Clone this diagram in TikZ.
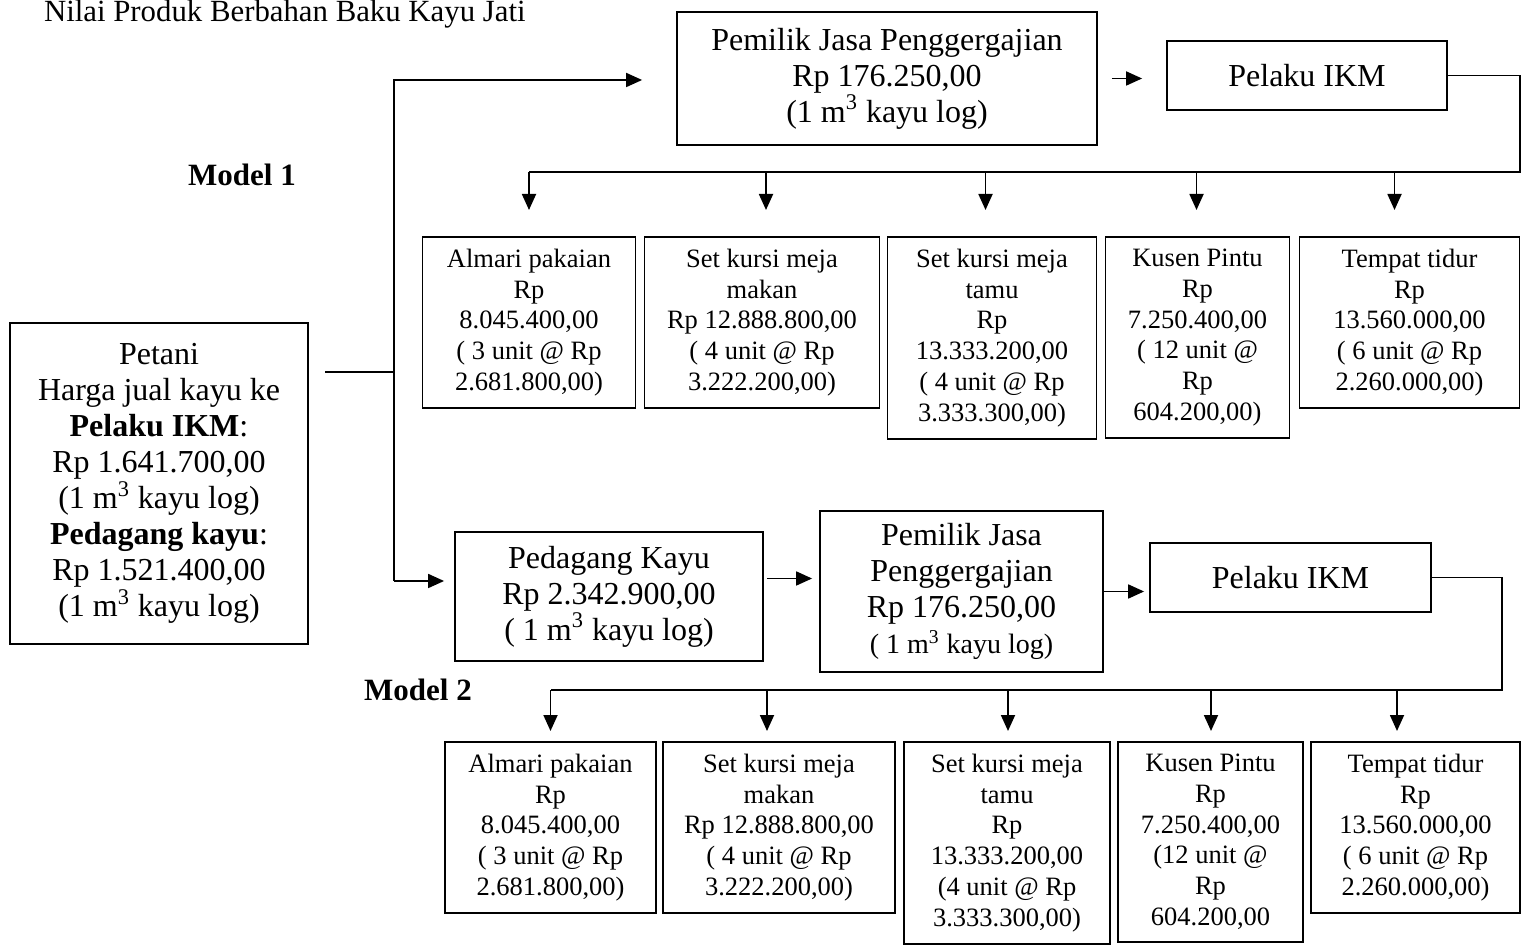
\documentclass[tikz,border=0pt]{standalone}
\usepackage{fontspec}
\setmainfont{Liberation Serif}
\usetikzlibrary{arrows.meta}

\newcommand\besar{\fontsize{16}{18}\selectfont}
\newcommand\kecil{\fontsize{13.25}{15.4}\selectfont}
\newcommand\judul{\fontsize{15.4}{18}\selectfont}
\newcommand\modelfont{\fontsize{15.5}{18}\selectfont\bfseries}
\newcommand\kubik{m\textsuperscript{3}}

\tikzset{
  kotak/.style={draw, line width=0.9pt, align=center, font=\besar, inner sep=3pt},
  barang/.style={draw, line width=0.9pt, align=center, font=\kecil, inner xsep=2pt, inner ysep=6pt, outer sep=0pt, anchor=north west},
  garis/.style={line width=0.9pt},
  panah/.style={line width=0.9pt, -{Triangle[length=8pt,width=7pt]}},
}

\begin{document}
\begin{tikzpicture}[x=0.5pt,y=-0.5pt]
\useasboundingbox (0,0) rectangle (1525,945);
\node[font=\judul, anchor=base west] (judul) at (37,22) {Nilai Produk Berbahan Baku Kayu Jati};
\node[font=\modelfont] (model1) at (242,175) {Model 1};
\node[font=\modelfont] (model2) at (418,690) {Model 2};

\node[kotak, minimum width=149pt, minimum height=160.5pt] (petani) at (159,483.5)
  {Petani\\Harga jual kayu ke\\\textbf{Pelaku IKM}:\\Rp 1.641.700,00\\(1 \kubik{} kayu log)\\\textbf{Pedagang kayu}:\\Rp 1.521.400,00\\(1 \kubik{} kayu log)};

% model 1
\node[kotak, minimum width=210pt, minimum height=66.5pt] (pemilik1) at (887,78.5)
  {Pemilik Jasa Penggergajian\\Rp 176.250,00\\(1 \kubik{} kayu log)};
\node[kotak, minimum width=140pt, minimum height=34.5pt] (pelaku1) at (1307,75.5) {Pelaku IKM};

\node[barang, minimum width=106.5pt] (almari1) at (422.5,237)
  {Almari pakaian\\Rp\\8.045.400,00\\( 3 unit @ Rp\\2.681.800,00)};
\node[barang, minimum width=117.5pt] (makan1) at ([xshift=4.5pt]almari1.north east)
  {Set kursi meja\\makan\\Rp 12.888.800,00\\( 4 unit @ Rp\\3.222.200,00)};
\node[barang, minimum width=104.5pt] (tamu1) at ([xshift=4pt]makan1.north east)
  {Set kursi meja\\tamu\\Rp\\13.333.200,00\\( 4 unit @ Rp\\3.333.300,00)};
\node[barang, minimum width=92pt] (kusen1) at ([xshift=4.5pt]tamu1.north east)
  {Kusen Pintu\\Rp\\7.250.400,00\\( 12 unit @\\Rp\\604.200,00)};
\node[barang, minimum width=110pt] (tidur1) at ([xshift=5pt]kusen1.north east)
  {Tempat tidur\\Rp\\13.560.000,00\\( 6 unit @ Rp\\2.260.000,00)};

% model 2
\node[kotak, minimum width=154pt, minimum height=64.5pt] (pedagang) at (609,596.5)
  {Pedagang Kayu\\Rp 2.342.900,00\\( 1 \kubik{} kayu log)};
\node[kotak, minimum width=141.5pt, minimum height=80.5pt] (pemilik2) at (961.5,591.5)
  {Pemilik Jasa\\Penggergajian\\Rp 176.250,00\\{\fontsize{14}{16}\selectfont ( 1 \kubik{} kayu log)}};
\node[kotak, minimum width=140.5pt, minimum height=34.5pt] (pelaku2) at (1290.5,577.5) {Pelaku IKM};

\node[barang, minimum width=105.5pt] (almari2) at (445,742)
  {Almari pakaian\\Rp\\8.045.400,00\\( 3 unit @ Rp\\2.681.800,00)};
\node[barang, minimum width=116pt] (makan2) at ([xshift=3.5pt]almari2.north east)
  {Set kursi meja\\makan\\Rp 12.888.800,00\\( 4 unit @ Rp\\3.222.200,00)};
\node[barang, minimum width=103pt] (tamu2) at ([xshift=4.5pt]makan2.north east)
  {Set kursi meja\\tamu\\Rp\\13.333.200,00\\(4 unit @ Rp\\3.333.300,00)};
\node[barang, minimum width=92.5pt] (kusen2) at ([xshift=4pt]tamu2.north east)
  {Kusen Pintu\\Rp\\7.250.400,00\\(12 unit @\\Rp\\604.200,00};
\node[barang, minimum width=104.5pt] (tidur2) at ([xshift=4pt]kusen2.north east)
  {Tempat tidur\\Rp\\13.560.000,00\\( 6 unit @ Rp\\2.260.000,00)};

% cabang dari petani
\coordinate (keluar) at (325,372);
\coordinate (cabangatas) at (394,80);
\coordinate (cabangbawah) at (394,581);
\draw[garis] (keluar) -- (keluar -| cabangatas);
\draw[panah, shorten >=17pt] (cabangbawah) -- (cabangatas) -- (cabangatas -| pemilik1.west);
\draw[panah, shorten >=5pt] (cabangbawah) -- (cabangbawah -| pedagang.west);

\draw[panah, shorten <=7pt, shorten >=12pt] (pemilik1.east) -- (pemilik1.east -| pelaku1.west);
\coordinate (belok1) at (1520,172);
\draw[garis] (pelaku1.east) -| (belok1) -- (belok1 -| almari1.north);
\foreach \n/\dx in {almari1/0, makan1/2, tamu1/-3.25, kusen1/-0.5, tidur1/-7.5}
  \draw[panah] ([xshift=\dx pt, yshift=32.5pt]\n.north) -- ++(0,38);

\coordinate (pdgkanan) at ([yshift=9pt]pedagang.east);
\draw[panah, shorten <=1.5pt, shorten >=3.5pt] (pdgkanan) -- (pdgkanan -| pemilik2.west);
\draw[panah, shorten >=2.5pt] (pemilik2.east) -- (pemilik2.east -| pelaku2.west);
\coordinate (belok2) at (1502,690);
\draw[garis] (pelaku2.east) -| (belok2) -- (belok2 -| almari2.north);
\foreach \n/\dx in {almari2/0, makan2/-6, tamu2/0.5, kusen2/0.25, tidur2/-9.25}
  \draw[panah] ([xshift=\dx pt, yshift=26pt]\n.north) -- ++(0,41);
\end{tikzpicture}
\end{document}
